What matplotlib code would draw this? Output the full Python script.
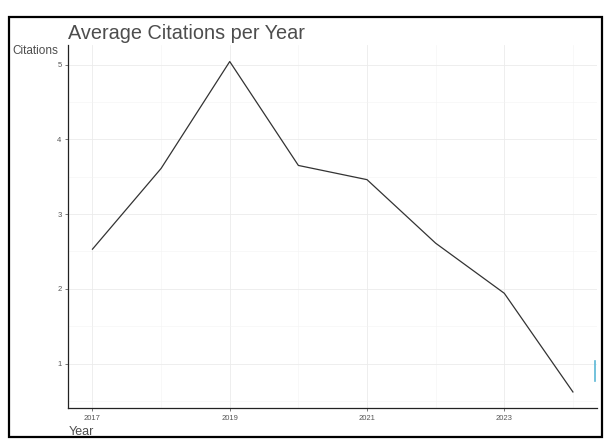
import matplotlib
matplotlib.use("Agg")
import matplotlib.pyplot as plt
from matplotlib.patches import Rectangle
from matplotlib.ticker import MultipleLocator

plt.rcParams['font.family'] = ['Liberation Sans', 'DejaVu Sans']

# data
years = [2017, 2018, 2019, 2020, 2021, 2022, 2023, 2024]
citations = [2.53, 3.61, 5.04, 3.65, 3.46, 2.61, 1.94, 0.62]
year_ticks = [2017, 2019, 2021, 2023]
year_minor = [2018, 2020, 2022, 2024]

fig = plt.figure(figsize=(6.11, 4.42), dpi=100)
ax = fig.add_axes([0.112, 0.076, 0.865, 0.822])

ax.plot(years, citations, color='#333333', linewidth=0.9)

# stray blue mark at the right edge of the original
ax.plot([2024.32, 2024.32], [0.77, 1.03], color='#5bb8d6', linewidth=1.2, clip_on=False)

ax.set_xlim(2016.65, 2024.35)
ax.set_ylim(0.40, 5.26)
ax.set_xticks(year_ticks)
ax.set_xticks(year_minor, minor=True)
ax.yaxis.set_major_locator(MultipleLocator(1))
ax.yaxis.set_minor_locator(MultipleLocator(0.5))

ax.grid(which='major', color='#ebebeb', linewidth=0.6)
ax.grid(which='minor', color='#f3f3f3', linewidth=0.4)
ax.set_axisbelow(True)

for side in ['top', 'right']:
    ax.spines[side].set_visible(False)
for side in ['left', 'bottom']:
    ax.spines[side].set_color('#222222')
    ax.spines[side].set_linewidth(0.9)

ax.tick_params(which='major', labelsize=5.5, labelcolor='#555555', color='#444444',
               length=2.5, width=0.5, pad=2.5)
ax.tick_params(which='minor', length=0)

ax.set_xlabel('Year', fontsize=9, color='#4d4d4d', loc='left', labelpad=2.5)
fig.text(0.021, 0.885, 'Citations', fontsize=8.5, color='#4d4d4d', ha='left', va='center')
fig.text(0.112, 0.912, 'Average Citations per Year', fontsize=14.3, color='#4d4d4d',
         ha='left', va='baseline')

fig.add_artist(Rectangle((0.014, 0.012), 0.972, 0.95, transform=fig.transFigure,
                         fill=False, edgecolor='black', linewidth=1.6))

fig.savefig('out.png', dpi=100)
